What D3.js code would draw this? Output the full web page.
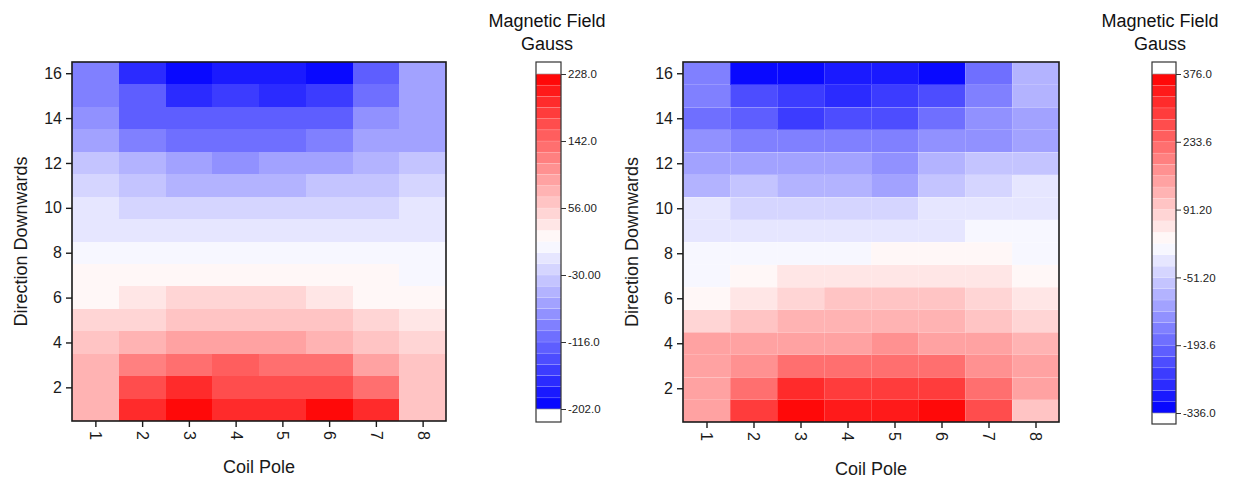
<!DOCTYPE html>
<html><head><meta charset="utf-8">
<script src="https://cdn.jsdelivr.net/npm/d3@7"></script>
<style>
html,body{margin:0;padding:0;background:#fff;}
svg{display:block;font-family:"Liberation Sans",Arial,sans-serif;}
</style></head>
<body><svg id="chart" width="1233" height="480"></svg>
<script>
// ---------- data ----------
const coilPoles = [1,2,3,4,5,6,7,8];
const directions = d3.range(1,17); // 1..16 (bottom to top)
const yTickValues = [2,4,6,8,10,12,14,16];

// rows: index 0 = direction 1 (bottom), columns = coil poles 1..8
const leftValues = [
  [77,193,225,199,199,225,185,64],
  [77,166,185,168,168,168,130,64],
  [77,120,130,143,130,130,97,64],
  [64,80,97,97,97,80,64,50],
  [50,50,64,64,64,64,50,38],
  [19,38,50,50,50,38,23,23],
  [20,20,20,20,20,20,20,3],
  [3,3,3,3,3,3,3,3],
  [-11,-11,-11,-11,-11,-11,-11,-11],
  [-11,-24,-24,-24,-24,-24,-24,-11],
  [-24,-42,-56,-56,-56,-38,-38,-24],
  [-38,-57,-71,-87,-71,-71,-55,-38],
  [-71,-98,-104,-104,-104,-94,-71,-62],
  [-87,-122,-130,-130,-130,-119,-87,-71],
  [-98,-130,-173,-155,-173,-155,-113,-71],
  [-98,-173,-195,-184,-184,-195,-130,-71]
];
const rightValues = [
  [150,300,368,340,338,370,265,103],
  [140,222,318,300,302,298,222,140],
  [140,180,222,225,222,218,180,145],
  [140,142,150,152,174,150,140,125],
  [79,103,127,127,127,127,110,79],
  [30,56,79,103,103,103,79,56],
  [8,32,56,56,56,56,56,32],
  [8,8,8,8,32,32,32,8],
  [-16,-16,-16,-16,-16,-16,8,8],
  [-16,-40,-40,-40,-40,-16,-16,-16],
  [-80,-63,-90,-90,-105,-63,-40,-16],
  [-100,-115,-115,-115,-125,-87,-63,-63],
  [-136,-160,-158,-155,-162,-140,-128,-108],
  [-182,-205,-253,-229,-229,-182,-134,-110],
  [-158,-229,-253,-277,-253,-229,-158,-88],
  [-158,-322,-318,-300,-298,-330,-182,-88]
];
const leftRange = [-202, 228];
const rightRange = [-336, 376];
const leftColorbarLabels = ["-202.0","-116.0","-30.00","56.00","142.0","228.0"];
const rightColorbarLabels = ["-336.0","-193.6","-51.20","91.20","233.6","376.0"];
const nLevels = 30;

const xTitle = "Coil Pole";
const yTitle = "Direction Downwards";
const cbTitle = ["Magnetic Field","Gauss"];

// ---------- colours: 30 discrete levels blue -> white -> red ----------
const half = nLevels/2;
const levelColors = d3.range(nLevels).map(i => {
  if (i < half) { const c = Math.round(255*(i+0.5)/half); return d3.rgb(c,c,255).formatHex(); }
  const j = nLevels-1-i; const c = Math.round(255*(j+0.5)/half); return d3.rgb(255,c,c).formatHex();
});

const svg = d3.select("#chart");
const ink = "#1a1a1a";

function panel(cfg) {
  const g = svg.append("g");
  const x = d3.scaleLinear().domain([0.5, 8.5]).range([cfg.x0, cfg.x1]);
  const y = d3.scaleLinear().domain([0.5, 16.5]).range([cfg.y1, cfg.y0]);
  const color = d3.scaleQuantize().domain(cfg.range).range(levelColors);

  const cells = [];
  cfg.values.forEach((row, ri) => row.forEach((v, ci) => cells.push({d: directions[ri], p: coilPoles[ci], v})));
  g.selectAll("rect.cell").data(cells).join("rect")
    .attr("class","cell")
    .attr("x", d => x(d.p-0.5))
    .attr("y", d => y(d.d+0.5))
    .attr("width", d => x(d.p+0.5)-x(d.p-0.5))
    .attr("height", d => y(d.d-0.5)-y(d.d+0.5))
    .attr("fill", d => color(d.v))
    .attr("stroke", cfg.cellStroke || "none")
    .attr("stroke-width", 0.6)
    .attr("shape-rendering","crispEdges");

  // frame
  g.append("rect").attr("x", cfg.x0).attr("y", cfg.y0)
    .attr("width", cfg.x1-cfg.x0).attr("height", cfg.y1-cfg.y0)
    .attr("fill","none").attr("stroke", ink).attr("stroke-width", 1.6);

  // y axis
  const ya = d3.axisLeft(y).tickValues(yTickValues).tickSize(6).tickSizeOuter(0).tickPadding(4);
  const yg = g.append("g").attr("transform",`translate(${cfg.x0},0)`).call(ya);
  yg.select(".domain").remove();
  yg.selectAll("line").attr("stroke", ink).attr("stroke-width",1.4);
  yg.selectAll("text").attr("font-size",16).attr("fill", ink).attr("font-family","Liberation Sans, Arial, sans-serif");

  // x axis
  const xa = d3.axisBottom(x).tickValues(coilPoles).tickSize(6).tickSizeOuter(0);
  const xg = g.append("g").attr("transform",`translate(0,${cfg.y1})`).call(xa);
  xg.select(".domain").remove();
  xg.selectAll("line").attr("stroke", ink).attr("stroke-width",1.4);
  xg.selectAll("text")
    .attr("font-size",16).attr("fill", ink).attr("font-family","Liberation Sans, Arial, sans-serif")
    .attr("transform","rotate(90)").attr("x", 10).attr("y", 0).attr("dy","0.35em")
    .attr("text-anchor","start");

  // titles
  g.append("text").attr("x", (cfg.x0+cfg.x1)/2).attr("y", cfg.xTitleY)
    .attr("text-anchor","middle").attr("font-size",18).attr("fill", ink).text(xTitle);
  g.append("text").attr("transform",`translate(${cfg.yTitleX},${(cfg.y0+cfg.y1)/2}) rotate(-90)`)
    .attr("text-anchor","middle").attr("dy","0.35em").attr("font-size",18).attr("fill", ink).text(yTitle);

  // colorbar
  const cb = svg.append("g");
  const cy = d3.scaleLinear().domain(cfg.range).range([cfg.cbBot, cfg.cbTop]);
  const step = (cfg.range[1]-cfg.range[0])/nLevels;
  const bands = d3.range(nLevels).map(i => ({lo: cfg.range[0]+i*step, hi: cfg.range[0]+(i+1)*step, c: levelColors[i]}));
  cb.selectAll("rect.band").data(bands).join("rect")
    .attr("class","band")
    .attr("x", cfg.cbX).attr("width", cfg.cbW)
    .attr("y", d => cy(d.hi)).attr("height", d => cy(d.lo)-cy(d.hi))
    .attr("fill", d => d.c)
    .attr("stroke","rgba(255,255,255,0.25)").attr("stroke-width",0.5);
  cb.append("rect").attr("x", cfg.cbX).attr("y", cfg.cbBoxTop)
    .attr("width", cfg.cbW).attr("height", cfg.cbBoxBot-cfg.cbBoxTop)
    .attr("fill","none").attr("stroke","#333").attr("stroke-width",1.2);
  cb.append("line").attr("x1",cfg.cbX).attr("x2",cfg.cbX+cfg.cbW).attr("y1",cfg.cbTop).attr("y2",cfg.cbTop).attr("stroke","#888").attr("stroke-width",0.6);
  cb.append("line").attr("x1",cfg.cbX).attr("x2",cfg.cbX+cfg.cbW).attr("y1",cfg.cbBot).attr("y2",cfg.cbBot).attr("stroke","#888").attr("stroke-width",0.6);
  const tickVals = d3.range(6).map(i => cfg.range[0] + i*(cfg.range[1]-cfg.range[0])/5);
  const ca = d3.axisRight(cy).tickValues(tickVals).tickSize(5).tickSizeOuter(0).tickPadding(2)
    .tickFormat((d,i) => cfg.cbLabels[i]);
  const cag = cb.append("g").attr("transform",`translate(${cfg.cbX+cfg.cbW},0)`).call(ca);
  cag.select(".domain").remove();
  cag.selectAll("line").attr("stroke","#333").attr("stroke-width",1);
  cag.selectAll("text").attr("font-size",11.5).attr("fill","#222").attr("font-family","Liberation Sans, Arial, sans-serif");

  const t = svg.append("text").attr("text-anchor","middle").attr("font-size",18).attr("fill","#111");
  t.append("tspan").attr("x", cfg.cbTitleX).attr("y", 27).text(cbTitle[0]);
  t.append("tspan").attr("x", cfg.cbTitleX).attr("y", 50).text(cbTitle[1]);
}

panel({values: leftValues, range: leftRange, cbLabels: leftColorbarLabels,
  x0: 72, x1: 446, y0: 62, y1: 421, xTitleY: 473, yTitleX: 21,
  cbX: 536, cbW: 25, cbTop: 74, cbBot: 409, cbBoxTop: 62, cbBoxBot: 422, cbTitleX: 547});
panel({values: rightValues, range: rightRange, cbLabels: rightColorbarLabels, cellStroke: "rgba(255,255,255,0.3)",
  x0: 683, x1: 1059, y0: 62, y1: 422, xTitleY: 475, yTitleX: 632,
  cbX: 1152, cbW: 24, cbTop: 74, cbBot: 413, cbBoxTop: 62, cbBoxBot: 424, cbTitleX: 1160});
</script>
</body></html>
